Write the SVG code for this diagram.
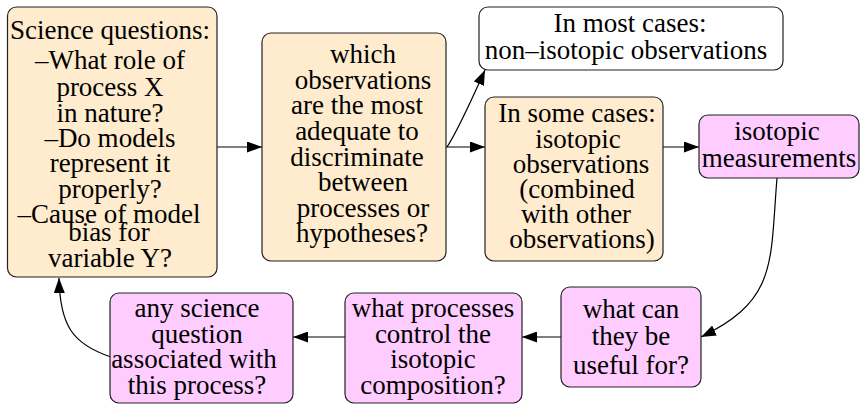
<svg xmlns="http://www.w3.org/2000/svg" width="860" height="406" viewBox="0 0 860 406">
<style>
.box{stroke:#222;stroke-width:1.2}
.beige{fill:#ffebcd}
.pink{fill:#ffccff}
.white{fill:#ffffff}
.t text{font-size:27px;fill:#000;text-anchor:middle}
.edge{fill:none;stroke:#000;stroke-width:1.2}
</style>
<defs>
<marker id="ah" markerWidth="15" markerHeight="11" refX="15" refY="5.5" orient="auto" markerUnits="userSpaceOnUse">
<polygon points="0,0 15,5.5 0,11" fill="#000"/>
</marker>
</defs>
<rect width="860" height="406" fill="#fff"/>
<g id="connectors">
<path class="edge" d="M217,147 L262,147" marker-end="url(#ah)"/>
<path class="edge" d="M447,147 C457,132 468,108 485,70" marker-end="url(#ah)"/>
<path class="edge" d="M446,147 L485,147" marker-end="url(#ah)"/>
<path class="edge" d="M663,147 L699,147" marker-end="url(#ah)"/>
<path class="edge" d="M777,178 C770,262 778,300 701,337" marker-end="url(#ah)"/>
<path class="edge" d="M561,337 L522,337" marker-end="url(#ah)"/>
<path class="edge" d="M345,337 L293,337" marker-end="url(#ah)"/>
<path class="edge" d="M111,357 C72,344 60,325 59,278" marker-end="url(#ah)"/>
</g>
<g class="t" font-family="'Liberation Serif', 'DejaVu Serif', serif">
<g id="n1">
<rect class="box beige" x="7.5" y="7" width="209.5" height="270" rx="9"/>
<text x="110" y="39">Science questions:</text>
<text x="110" y="69">–What role of</text>
<text x="110" y="96">process X</text>
<text x="110" y="121.5">in nature?</text>
<text x="110" y="147">–Do models</text>
<text x="110" y="172">represent it</text>
<text x="110" y="197.5">properly?</text>
<text x="109" y="223">–Cause of model</text>
<text x="109" y="241">bias for</text>
<text x="110" y="267">variable Y?</text>
</g>
<g id="n2">
<rect class="box beige" x="262" y="33" width="184" height="228" rx="9"/>
<text x="363" y="63">which</text>
<text x="363" y="89">observations</text>
<text x="357" y="114">are the most</text>
<text x="357" y="140">adequate to</text>
<text x="357" y="166">discriminate</text>
<text x="363" y="191">between</text>
<text x="363" y="217">processes or</text>
<text x="362" y="242">hypotheses?</text>
</g>
<g id="n3">
<rect class="box white" x="479" y="7" width="304" height="63" rx="9"/>
<text x="630" y="32">In most cases:</text>
<text x="626" y="59">non–isotopic observations</text>
</g>
<g id="n4">
<rect class="box beige" x="485" y="97" width="178" height="164" rx="9"/>
<text x="577" y="122">In some cases:</text>
<text x="578" y="148">isotopic</text>
<text x="581" y="173">observations</text>
<text x="577" y="198">(combined</text>
<text x="576" y="223">with other</text>
<text x="582" y="248">observations)</text>
</g>
<g id="n5">
<rect class="box pink" x="699" y="115" width="160" height="63" rx="9"/>
<text x="777" y="140">isotopic</text>
<text x="779" y="166.5">measurements</text>
</g>
<g id="n6">
<rect class="box pink" x="561" y="287" width="140" height="100" rx="9"/>
<text x="631" y="318">what can</text>
<text x="631" y="345">they be</text>
<text x="631" y="374">useful for?</text>
</g>
<g id="n7">
<rect class="box pink" x="345" y="293" width="177" height="110" rx="9"/>
<text x="433" y="317">what processes</text>
<text x="433" y="343">control the</text>
<text x="433" y="368">isotopic</text>
<text x="433" y="394">composition?</text>
</g>
<g id="n8">
<rect class="box pink" x="110" y="293" width="183" height="110" rx="9"/>
<text x="197" y="317">any science</text>
<text x="197" y="343">question</text>
<text x="194" y="368">associated with</text>
<text x="197" y="394">this process?</text>
</g>
</g>
</svg>
